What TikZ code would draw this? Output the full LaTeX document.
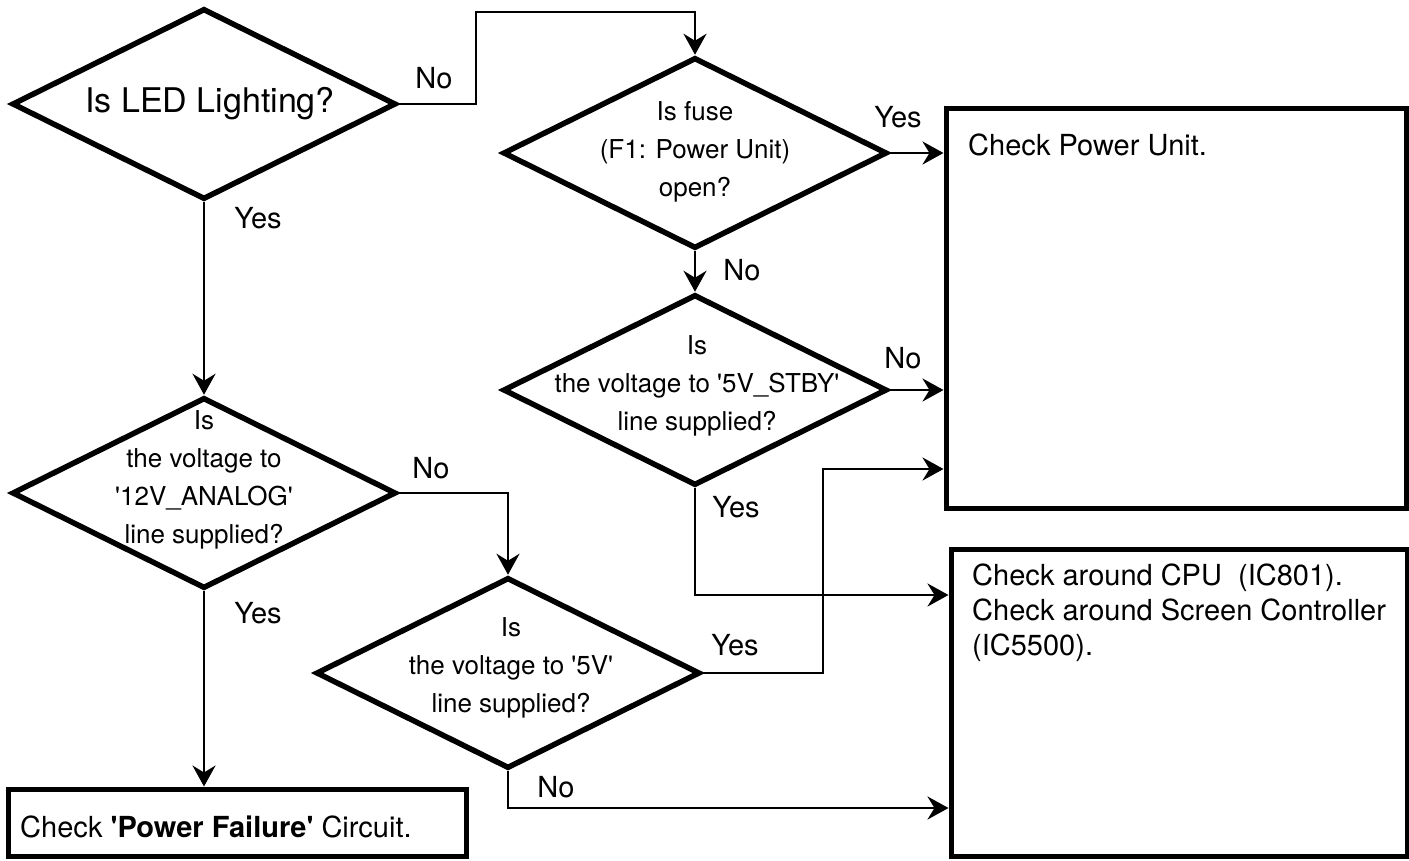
\documentclass[tikz,border=0pt]{standalone}
\usepackage{fontspec}
\setmainfont{TeX Gyre Heros}[Ligatures=TeXOff]
\usetikzlibrary{shapes.geometric,arrows.meta}
\begin{document}
\begin{tikzpicture}[x=1pt,y=-1pt,
  dia/.style={diamond, draw, line width=5.5pt, minimum width=384pt, minimum height=191pt, inner sep=0pt},
  box/.style={rectangle, draw, line width=5pt, inner sep=0pt},
  conn/.style={line width=2.8pt, -{Stealth[length=21pt,width=23pt,inset=7pt]}},
  lbl/.style={font=\fontsize{29}{34}\selectfont, inner sep=0pt},
  dtxt/.style={align=center, font=\fontsize{26}{38}\selectfont, inner sep=0pt},
  btxt/.style={align=left, font=\fontsize{29}{35}\selectfont, inner sep=0pt}]
\fill[white] (0,0) rectangle (1409,860);
\useasboundingbox (0,0) rectangle (1409,860);
% diamonds
\node[dia] (d1) at (204,104) {};
\node[dia] (d2) at (695,153) {};
\node[dia] (d3) at (695,390) {};
\node[dia] (d4) at (204,493) {};
\node[dia] (d5) at (508,673) {};
% boxes
\node[box, minimum width=460pt, minimum height=400pt] (b1) at (1176,308) {};
\node[box, minimum width=456pt, minimum height=307pt] (b2) at (1179,702.5) {};
\node[box, minimum width=458pt, minimum height=67pt] (b3) at (237,822.5) {};
% diamond texts
\node[font=\fontsize{34}{40}\selectfont, inner sep=0pt] (t1) at (210,104) {Is LED Lighting?};
\node[dtxt] (t2) at (695,152) {Is fuse\\(F1: Power Unit)\\open?};
\node[dtxt] (t3) at (697,386) {Is\\the voltage to '5V\_STBY'\\line supplied?};
\node[dtxt] (t4) at (204,480) {Is\\the voltage to\\'12V\_ANALOG'\\line supplied?};
\node[dtxt] (t5) at (511,668) {Is\\the voltage to '5V'\\line supplied?};
% box texts
\node[btxt, anchor=west] (tb1) at (968,145) {Check Power Unit.};
\node[btxt, anchor=north west] (tb2) at (972,564) {Check around CPU\ \ (IC801).\\Check around Screen Controller\\(IC5500).};
\node[btxt, anchor=west] (tb3) at (20,827) {Check \textbf{'Power Failure'} Circuit.};
% junction coordinates
\coordinate (j2) at (476,12);
\coordinate (j6) at (695,595);
\coordinate (j9) at (823,469);
\coordinate (j10) at (508,808);
% connectors
\draw[conn] (d1.south) -- (d4.north);
\draw[conn] (d1.east) -| (j2) -| (d2.north);
\draw[conn] (d2.east) -- (d2.east -| b1.west);
\draw[conn] (d2.south) -- (d3.north);
\draw[conn] (d3.east) -- (d3.east -| b1.west);
\draw[conn] (d3.south) -- (j6) -- (j6 -| b2.west);
\draw[conn] (d4.east) -| (d5.north);
\draw[conn] (d4.south) -- (d4.south |- b3.north);
\draw[conn] (d5.east) -| (j9) -- (j9 -| b1.west);
\draw[conn] (d5.south) -- (j10) -- (j10 -| b2.west);
% labels
\node[lbl] (l1) at (434,78) {No};
\node[lbl] (l2) at (258,218) {Yes};
\node[lbl] (l3) at (898,117) {Yes};
\node[lbl] (l4) at (742,270) {No};
\node[lbl] (l5) at (903,358) {No};
\node[lbl] (l6) at (736,507) {Yes};
\node[lbl] (l7) at (431,468) {No};
\node[lbl] (l8) at (258,613) {Yes};
\node[lbl] (l9) at (735,645) {Yes};
\node[lbl] (l10) at (556,787) {No};
\end{tikzpicture}
\end{document}
